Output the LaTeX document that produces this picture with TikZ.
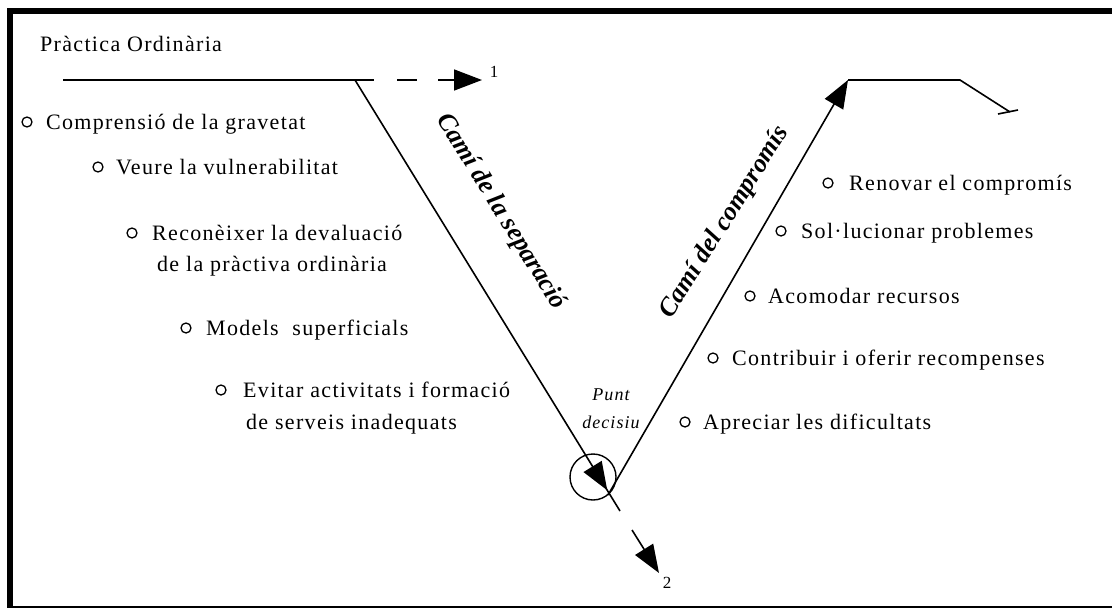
\documentclass[tikz,border=0pt]{standalone}
\usepackage{fontspec}
\setmainfont{Liberation Serif}
\newfontfamily\spacedserif[LetterSpace=6]{Liberation Serif}
\usetikzlibrary{arrows.meta}
\usetikzlibrary{decorations.markings}
\tikzset{>={Triangle[length=28pt,width=21pt]}}
\tikzset{midtip/.style = {decoration={markings,
                                      mark=at position #1 with {\arrow{>}}},
                          postaction={decorate}}}
\tikzset{road/.style = {line width=1.6pt}}
\tikzset{item/.style = {anchor=base west, inner sep=0pt,
                        font=\spacedserif\fontsize{22}{26}\selectfont}}
\tikzset{dot/.style = {circle, draw, line width=1.3pt, minimum size=10pt, inner sep=0pt}}
\tikzset{roadlabel/.style = {inner sep=0pt, font=\fontsize{26}{30}\selectfont\bfseries\itshape}}
\tikzset{exitlabel/.style = {inner sep=0pt, font=\fontsize{17}{18}\selectfont}}

\begin{document}
\begin{tikzpicture}[x=1pt, y=-1pt]
    \useasboundingbox (0,0) rectangle (1112,608);
    \fill (7,8) rectangle (1112,14);
    \fill (7,8) rectangle (13,608);
    \fill (7,606) rectangle (1112,608);

    \node [item] (title) at (40,51) {Pràctica Ordinària};

    % the two roads
    \coordinate (start) at (63,80);
    \coordinate (fork) at (355,80);
    \coordinate (stub) at (374,80);
    \coordinate (out1) at (482,80);
    \coordinate (low) at (620,511);
    \coordinate (gap) at (632,530);
    \coordinate (out2) at (659,573);
    \coordinate (rise) at (608,495);
    \coordinate (top) at (848,80);
    \coordinate (ledge) at (960,80);
    \coordinate (drop) at (1010,112);
    \coordinate (tickl) at (998,114);
    \coordinate (tickr) at (1018,110);

    \draw [road] (start) -- (stub);
    \draw [road, ->, dash pattern=on 0pt off 23pt on 20pt off 21pt on 60pt] (stub) -- (out1);
    \node [exitlabel] (one) at (494,72) {1};

    \node [circle, draw, line width=1.4pt, minimum size=46pt, inner sep=0pt] (punt) at (593,477) {};
    \draw [road, midtip=0.952] (fork) -- (low);
    \draw [road, ->] (gap) -- (out2);
    \node [exitlabel] (two) at (667,583) {2};

    \draw [road, ->] (rise) -- (top);
    \draw [road] (top) -- (ledge) -- (drop);
    \draw [road] (tickl) -- (tickr);

    \node [roadlabel, rotate=-58.4] (seplabel) at (501,212) {Camí de la separació};
    \node [roadlabel, rotate=58] (comlabel) at (725,222) {Camí del compromís};
    \node [align=center, inner sep=0pt, font=\spacedserif\itshape\fontsize{18}{28}\selectfont]
        (puntlabel) at (611,409) {Punt\\decisiu};

    % separation side
    \node [dot] (sepdot1) at (27,122) {};
    \node [item] (sep1) at (46,129) {Comprensió de la gravetat};
    \node [dot] (sepdot2) at (98,167) {};
    \node [item] (sep2) at (116,174) {Veure la vulnerabilitat};
    \node [dot] (sepdot3) at (132,233) {};
    \node [item] (sep3a) at (152,240) {Reconèixer la devaluació};
    \node [item] (sep3b) at (157,271) {de la pràctiva ordinària};
    \node [dot] (sepdot4) at (186,328) {};
    \node [item] (sep4) at (206,335) {Models\ \ superficials};
    \node [dot] (sepdot5) at (221,390) {};
    \node [item] (sep5a) at (243,397) {Evitar activitats i formació};
    \node [item] (sep5b) at (246,429) {de serveis inadequats};

    % commitment side
    \node [dot] (comdot1) at (828,183) {};
    \node [item] (com1) at (849,190) {Renovar el compromís};
    \node [dot] (comdot2) at (781,231) {};
    \node [item] (com2) at (801,238) {Sol·lucionar problemes};
    \node [dot] (comdot3) at (750,296) {};
    \node [item] (com3) at (768,303) {Acomodar recursos};
    \node [dot] (comdot4) at (713,358) {};
    \node [item] (com4) at (732,365) {Contribuir i oferir recompenses};
    \node [dot] (comdot5) at (685,422) {};
    \node [item] (com5) at (703,429) {Apreciar les dificultats};
\end{tikzpicture}
\end{document}
